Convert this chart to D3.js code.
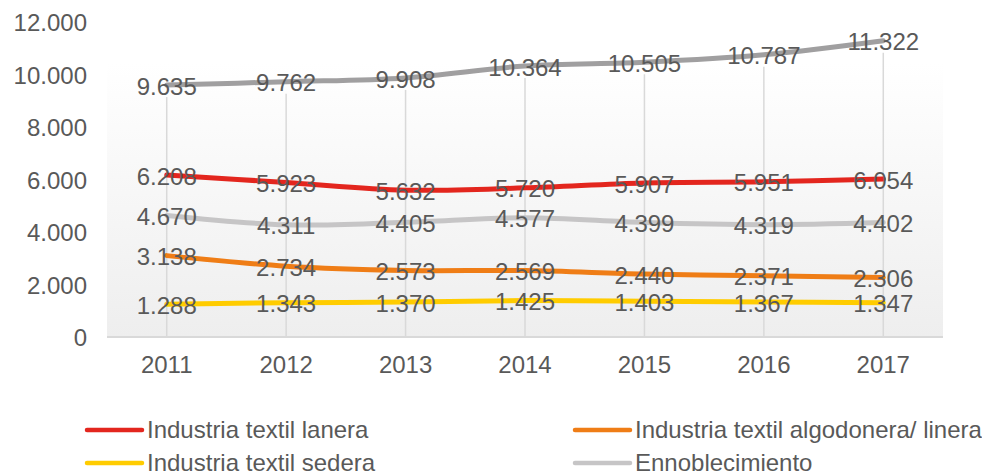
<!DOCTYPE html>
<html>
<head>
<meta charset="utf-8">
<script src="https://cdn.jsdelivr.net/npm/d3@7"></script>
<style>
  body { margin: 0; background: #fff; }
  svg text { font-family: "Liberation Sans", Arial, sans-serif; fill: #595959; }
</style>
</head>
<body>
<svg id="chart" width="982" height="473"></svg>
<script>
// data
const years = ['2011', '2012', '2013', '2014', '2015', '2016', '2017'];
const totalSector = [9635, 9762, 9908, 10364, 10505, 10787, 11322];
const lanera = [6208, 5923, 5632, 5720, 5907, 5951, 6054];
const ennoblecimiento = [4670, 4311, 4405, 4577, 4399, 4319, 4402];
const algodonera = [3138, 2734, 2573, 2569, 2440, 2371, 2306];
const sedera = [1288, 1343, 1370, 1425, 1403, 1367, 1347];
const yTicks = [0, 2000, 4000, 6000, 8000, 10000, 12000];

const series = [
  { name: null, values: totalSector, color: '#a09fa0' },
  { name: 'Industria textil lanera', values: lanera, color: '#e3261e' },
  { name: 'Ennoblecimiento', values: ennoblecimiento, color: '#c6c5c6' },
  { name: 'Industria textil algodonera/ linera', values: algodonera, color: '#ef7d16' },
  { name: 'Industria textil sedera', values: sedera, color: '#ffcc00' }
];

const svg = d3.select('#chart');
const plotLeft = 107, plotRight = 943, plotTop = 23, plotBottom = 338;

const x = d3.scaleBand().domain(years).range([plotLeft, plotRight]).padding(0);
const y = d3.scaleLinear().domain([0, 12000]).range([plotBottom, plotTop]);
const cx = d => x(d) + x.bandwidth() / 2;
const fmt = v => d3.format(',')(v).replace(/,/g, '.');

// plot background gradient
const grad = svg.append('defs').append('linearGradient')
  .attr('id', 'bg').attr('x1', 0).attr('y1', 0).attr('x2', 0).attr('y2', 1);
grad.append('stop').attr('offset', '0%').attr('stop-color', '#ffffff');
grad.append('stop').attr('offset', '100%').attr('stop-color', '#eeeeee');
svg.append('rect')
  .attr('x', plotLeft).attr('y', 63)
  .attr('width', plotRight - plotLeft).attr('height', plotBottom - 63)
  .attr('fill', 'url(#bg)');

// vertical gridlines (stop under the top series label)
svg.append('g').selectAll('line')
  .data(years)
  .join('line')
  .attr('x1', d => cx(d)).attr('x2', d => cx(d))
  .attr('y1', (d, i) => y(totalSector[i]) + 12)
  .attr('y2', plotBottom)
  .attr('stroke', '#d9d9d9').attr('stroke-width', 1.5);

// baseline
svg.append('line')
  .attr('x1', plotLeft).attr('x2', plotRight)
  .attr('y1', plotBottom - 1).attr('y2', plotBottom - 1)
  .attr('stroke', '#d9d9d9').attr('stroke-width', 2);

// y tick labels
svg.append('g').selectAll('text')
  .data(yTicks)
  .join('text')
  .attr('x', 87).attr('y', d => y(d))
  .attr('dy', '0.35em')
  .attr('text-anchor', 'end')
  .attr('font-size', 24)
  .text(d => fmt(d));

// x labels
svg.append('g').selectAll('text')
  .data(years)
  .join('text')
  .attr('x', d => cx(d)).attr('y', 365)
  .attr('dy', '0.35em')
  .attr('text-anchor', 'middle')
  .attr('font-size', 24)
  .text(d => d);

// lines
const line = d3.line()
  .x((d, i) => cx(years[i]))
  .y(d => y(d))
  .curve(d3.curveCatmullRom);

svg.append('g').selectAll('path')
  .data(series)
  .join('path')
  .attr('d', s => line(s.values))
  .attr('fill', 'none')
  .attr('stroke', s => s.color)
  .attr('stroke-width', 5)
  .attr('stroke-linecap', 'round');

// value labels centered on the points
series.forEach(s => {
  svg.append('g').selectAll('text')
    .data(s.values)
    .join('text')
    .attr('x', (d, i) => cx(years[i]))
    .attr('y', d => y(d))
    .attr('dy', '0.4em')
    .attr('text-anchor', 'middle')
    .attr('font-size', 24)
    .text(d => fmt(d));
});

// legend
const legendItems = [
  { s: series[1], x: 87, y: 430 },
  { s: series[3], x: 575, y: 430 },
  { s: series[4], x: 87, y: 463 },
  { s: series[2], x: 575, y: 463 }
];
const lg = svg.append('g').selectAll('g')
  .data(legendItems)
  .join('g')
  .attr('transform', d => `translate(${d.x},${d.y})`);
lg.append('line')
  .attr('x1', 0).attr('x2', 55)
  .attr('stroke', d => d.s.color)
  .attr('stroke-width', 4.5)
  .attr('stroke-linecap', 'round');
lg.append('text')
  .attr('x', 60)
  .attr('dy', '0.35em')
  .attr('font-size', 24)
  .text(d => d.s.name);
</script>
</body>
</html>
